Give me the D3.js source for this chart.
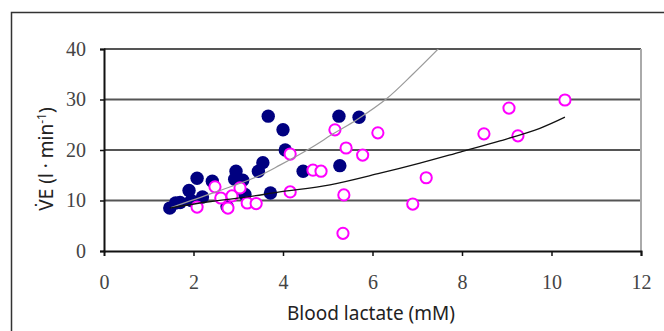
<!DOCTYPE html>
<html>
<head>
<meta charset="utf-8">
<script src="https://cdn.jsdelivr.net/npm/d3@7"></script>
<style>
  html, body { margin: 0; padding: 0; background: #fff; }
  svg { display: block; }
  .tick text { font-family: "Liberation Serif", "DejaVu Serif", serif; font-size: 20px; }
</style>
</head>
<body>
<div id="chart"></div>
<script>
// blood lactate (mM) vs ventilation, two groups
const navyX = [1.47, 1.6, 1.7, 1.9, 1.95, 2.08, 2.2, 2.42, 2.75, 2.92, 2.95, 3.1, 3.15, 3.45, 3.55, 3.67, 3.72, 4.0, 4.05, 4.45, 5.25, 5.27, 5.7];
const navyY = [8.5, 9.5, 9.6, 12.0, 10.0, 14.4, 10.7, 13.8, 8.8, 14.2, 15.8, 14.0, 11.2, 15.8, 17.5, 26.7, 11.5, 24.0, 20.0, 15.8, 26.7, 16.9, 26.5];

const pinkX = [2.08, 2.48, 2.61, 2.77, 2.86, 3.04, 3.2, 3.4, 4.16, 4.16, 4.67, 4.85, 5.16, 5.41, 5.36, 5.34, 5.78, 6.12, 6.9, 7.2, 8.49, 9.05, 9.25, 10.3];
const pinkY = [8.7, 12.7, 10.5, 8.5, 10.9, 12.5, 9.5, 9.4, 11.7, 19.2, 16.0, 15.8, 24.0, 20.4, 11.1, 3.5, 19.0, 23.4, 9.3, 14.5, 23.2, 28.3, 22.8, 29.9];

// trend lines
const grayTrendX = [1.5, 2.44, 3.44, 3.93, 4.6, 5.14, 5.65, 6.32, 6.9, 7.49];
const grayTrendY = [8.6, 11.5, 14.8, 17.0, 20.3, 23.3, 26.0, 30.2, 35.0, 40.2];
const blackTrendX = [1.47, 2.3, 3.2, 3.93, 5.05, 6.17, 7.06, 7.96, 8.85, 9.74, 10.3];
const blackTrendY = [8.5, 9.7, 10.7, 11.7, 13.1, 15.4, 17.4, 19.6, 21.8, 24.3, 26.5];

const xTicks = [0, 2, 4, 6, 8, 10, 12];
const yTicks = [0, 10, 20, 30, 40];

const width = 664, height = 331;
const margin = { left: 104, right: 23, top: 49, bottom: 80 };

const svg = d3.select('#chart').append('svg')
  .attr('width', width)
  .attr('height', height);

// outer frame (only top + left visible in the crop)
svg.append('path')
  .attr('d', `M11.5,${height + 2} L11.5,12.5 L${width + 2},12.5`)
  .attr('fill', 'none')
  .attr('stroke', '#333')
  .attr('stroke-width', 1.5);

const x = d3.scaleLinear().domain([0, 12]).range([margin.left, width - margin.right]);
const y = d3.scaleLinear().domain([0, 40]).range([height - margin.bottom, margin.top]);

svg.append('clipPath').attr('id', 'plotclip')
  .append('rect')
  .attr('x', x(0)).attr('y', y(40))
  .attr('width', x(12) - x(0)).attr('height', y(0) - y(40));

const g = svg.append('g');

// gridlines
g.selectAll('.grid')
  .data(yTicks.filter(d => d > 0))
  .enter().append('line')
  .attr('x1', x(0)).attr('x2', x(12))
  .attr('y1', d => y(d)).attr('y2', d => y(d))
  .attr('stroke', '#555')
  .attr('stroke-width', 2);

// right border of plot area
g.append('line')
  .attr('x1', x(12)).attr('x2', x(12))
  .attr('y1', y(40)).attr('y2', y(0))
  .attr('stroke', '#aaa')
  .attr('stroke-width', 2);

const xAxis = g.append('g')
  .attr('transform', `translate(0,${y(0)})`)
  .call(d3.axisBottom(x).tickValues(xTicks).tickSize(5).tickPadding(19));
const yAxis = g.append('g')
  .attr('transform', `translate(${x(0)},0)`)
  .call(d3.axisLeft(y).tickValues(yTicks).tickSize(4).tickPadding(14));

[xAxis, yAxis].forEach(a => {
  a.attr('font-family', null).attr('font-size', null);
  a.select('.domain').attr('stroke', '#111').attr('stroke-width', 2);
  a.selectAll('.tick line').attr('stroke', '#111').attr('stroke-width', 1.5);
  a.selectAll('.tick text').attr('fill', '#444');
});
xAxis.selectAll('.tick').filter(d => d === 0).select('line').remove();

// points
const navy = navyX.map((v, i) => ({ x: v, y: navyY[i] }));
const pink = pinkX.map((v, i) => ({ x: v, y: pinkY[i] }));

g.selectAll('.navy')
  .data(navy)
  .enter().append('circle')
  .attr('cx', d => x(d.x))
  .attr('cy', d => y(d.y))
  .attr('r', 6.7)
  .attr('fill', '#000080');

g.selectAll('.pink')
  .data(pink)
  .enter().append('circle')
  .attr('cx', d => x(d.x))
  .attr('cy', d => y(d.y))
  .attr('r', 5.6)
  .attr('fill', '#fff')
  .attr('stroke', '#ff00ff')
  .attr('stroke-width', 2);

// trend curves
const line = d3.line().x(d => x(d[0])).y(d => y(d[1])).curve(d3.curveCatmullRom);

g.append('path')
  .datum(grayTrendX.map((v, i) => [v, grayTrendY[i]]))
  .attr('d', line)
  .attr('clip-path', 'url(#plotclip)')
  .attr('fill', 'none')
  .attr('stroke', '#9a9a9a')
  .attr('stroke-width', 1.2);

g.append('path')
  .datum(blackTrendX.map((v, i) => [v, blackTrendY[i]]))
  .attr('d', line)
  .attr('fill', 'none')
  .attr('stroke', '#111')
  .attr('stroke-width', 1.3);

// axis titles
svg.append('text')
  .attr('x', 371)
  .attr('y', 320)
  .attr('text-anchor', 'middle')
  .style('font-family', '"Noto Sans", "DejaVu Sans", sans-serif')
  .style('font-size', '19px')
  .attr('fill', '#222')
  .text('Blood lactate (mM)');

const yt = svg.append('text')
  .attr('transform', 'translate(53,159) rotate(-90)')
  .attr('text-anchor', 'middle')
  .style('font-family', '"Noto Sans", "DejaVu Sans", sans-serif')
  .style('font-size', '19px')
  .attr('fill', '#222');
yt.append('tspan').text('V\u0307E (l \u00b7 min');
yt.append('tspan').attr('dy', -7).style('font-size', '12px').text('-1');
yt.append('tspan').attr('dy', 7).text(')');
</script>
</body>
</html>
